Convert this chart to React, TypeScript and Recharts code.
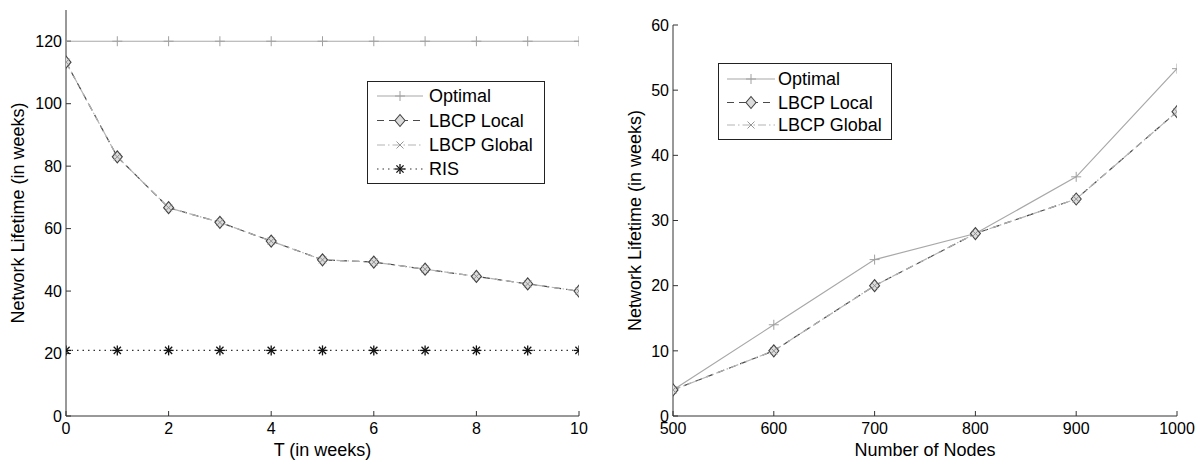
import React from 'react'
import { LineChart, Line, XAxis, YAxis, Legend } from 'recharts'

// left panel: lifetime vs T
const weeks = [0, 1, 2, 3, 4, 5, 6, 7, 8, 9, 10]
const optimalByWeek = [120, 120, 120, 120, 120, 120, 120, 120, 120, 120, 120]
const lbcpLocalByWeek = [113.3, 83, 66.7, 62, 56, 50, 49.3, 47, 44.7, 42.3, 40]
const lbcpGlobalByWeek = [113.3, 83, 66.7, 62, 56, 50, 49.3, 47, 44.7, 42.3, 40]
const risByWeek = [21, 21, 21, 21, 21, 21, 21, 21, 21, 21, 21]
const weekTicks = [0, 2, 4, 6, 8, 10]
const lifetimeTicksLeft = [0, 20, 40, 60, 80, 100, 120]

// right panel: lifetime vs number of nodes
const nodeCounts = [500, 600, 700, 800, 900, 1000]
const optimalByNodes = [4, 14, 24, 28, 36.7, 53.3]
const lbcpLocalByNodes = [4, 10, 20, 28, 33.3, 46.7]
const lbcpGlobalByNodes = [4, 10, 20, 28, 33.3, 46.7]
const nodeTicks = [500, 600, 700, 800, 900, 1000]
const lifetimeTicksRight = [0, 10, 20, 30, 40, 50, 60]

const weekData = weeks.map((t, i) => ({
    t,
    optimal: optimalByWeek[i],
    local: lbcpLocalByWeek[i],
    global: lbcpGlobalByWeek[i],
    ris: risByWeek[i],
}))

const nodeData = nodeCounts.map((n, i) => ({
    n,
    optimal: optimalByNodes[i],
    local: lbcpLocalByNodes[i],
    global: lbcpGlobalByNodes[i],
}))

const FONT = '"Liberation Sans", Arial, Helvetica, sans-serif'

type Kind = 'plus' | 'diamond' | 'cross' | 'star'

const SERIES: Record<string, { name: string; stroke: string; dash?: string; kind: Kind }> = {
    optimal: { name: 'Optimal', stroke: '#a8a8a8', kind: 'plus' },
    local: { name: 'LBCP Local', stroke: '#4a4a4a', dash: '7 5', kind: 'diamond' },
    global: { name: 'LBCP Global', stroke: '#b4b4b4', dash: '8 3 1.5 3', kind: 'cross' },
    ris: { name: 'RIS', stroke: '#333', dash: '1.5 4', kind: 'star' },
}

function Marker({ kind, x, y }: { kind: Kind; x: number; y: number }) {
    if (x == null || y == null) return null
    if (kind === 'plus') {
        return (
            <g stroke="#a0a0a0" strokeWidth={1}>
                <line x1={x - 5} y1={y} x2={x + 5} y2={y} />
                <line x1={x} y1={y - 5} x2={x} y2={y + 5} />
            </g>
        )
    }
    if (kind === 'diamond') {
        return (
            <polygon
                points={`${x},${y - 6} ${x + 5},${y} ${x},${y + 6} ${x - 5},${y}`}
                fill="#dcdcdc"
                stroke="#444"
                strokeWidth={1.1}
            />
        )
    }
    if (kind === 'cross') {
        return (
            <g stroke="#8a8a8a" strokeWidth={0.9}>
                <line x1={x - 3.5} y1={y - 3.5} x2={x + 3.5} y2={y + 3.5} />
                <line x1={x - 3.5} y1={y + 3.5} x2={x + 3.5} y2={y - 3.5} />
            </g>
        )
    }
    return (
        <g stroke="#111" strokeWidth={1.3}>
            <line x1={x - 5} y1={y} x2={x + 5} y2={y} />
            <line x1={x} y1={y - 5} x2={x} y2={y + 5} />
            <line x1={x - 3.6} y1={y - 3.6} x2={x + 3.6} y2={y + 3.6} />
            <line x1={x - 3.6} y1={y + 3.6} x2={x + 3.6} y2={y - 3.6} />
        </g>
    )
}

const dotOf = (kind: Kind) => (p: any) => <Marker key={`${kind}-${p.index}`} kind={kind} x={p.cx} y={p.cy} />

function LegendBox({ keys, width, height, rowY, x0, x1, textX }: {
    keys: string[]; width: number; height: number; rowY: number[]; x0: number; x1: number; textX: number
}) {
    return (
        <svg width={width} height={height} style={{ display: 'block', fontFamily: FONT }}>
            <rect x={0.5} y={0.5} width={width - 1} height={height - 1} fill="#fff" stroke="#222" strokeWidth={1} />
            {keys.map((k, i) => {
                const s = SERIES[k]
                const y = rowY[i]
                return (
                    <g key={k}>
                        <line x1={x0} y1={y} x2={x1} y2={y} stroke={s.stroke} strokeWidth={1.2} strokeDasharray={s.dash} />
                        <Marker kind={s.kind} x={(x0 + x1) / 2} y={y} />
                        <text x={textX} y={y} dy="0.36em" fontSize={18} fill="#000">{s.name}</text>
                    </g>
                )
            })}
        </svg>
    )
}

const tickStyle = { fill: '#000', fontSize: 16 }
const axisStroke = '#333'

export default function App() {
    return (
        <div style={{ position: 'absolute', left: 0, top: 0, width: 1202, height: 461, background: '#fff', fontFamily: FONT }}>
            {/* T sweep */}
            <div style={{ position: 'absolute', left: 0, top: 0 }}>
                <LineChart width={600} height={461} data={weekData} margin={{ top: 10, right: 21, bottom: 0, left: 0 }}>
                    <XAxis dataKey="t" type="number" domain={[0, 10]} ticks={weekTicks} interval={0} height={45}
                        stroke={axisStroke} tick={tickStyle} tickSize={-5} tickMargin={12} allowDataOverflow
                        label={{ value: 'T (in weeks)', position: 'insideBottom', offset: 5, fontSize: 18, fill: '#000' }} />
                    <XAxis xAxisId="top" orientation="top" type="number" domain={[0, 10]} ticks={weekTicks} interval={0}
                        height={0} stroke={axisStroke} tick={false} tickSize={-5} allowDataOverflow />
                    <YAxis type="number" domain={[0, 130]} ticks={lifetimeTicksLeft} interval={0} width={66}
                        stroke={axisStroke} tick={tickStyle} tickSize={-5} tickMargin={9} allowDataOverflow
                        label={{ value: 'Network Lifetime (in weeks)', angle: -90, position: 'insideLeft', offset: 18, fontSize: 18, fill: '#000', style: { textAnchor: 'middle' } }} />
                    <YAxis yAxisId="right" orientation="right" type="number" domain={[0, 130]} ticks={lifetimeTicksLeft}
                        interval={0} width={0} stroke={axisStroke} tick={false} tickSize={-5} allowDataOverflow />
                    <Legend verticalAlign="middle" align="center" layout="horizontal"
                        wrapperStyle={{ left: 367, top: 81, width: 178, height: 103 }}
                        content={() => <LegendBox keys={['optimal', 'local', 'global', 'ris']} width={178} height={103}
                            rowY={[15, 39.5, 64, 88]} x0={10} x1={56} textX={62} />} />
                    <Line dataKey="optimal" name="Optimal" stroke={SERIES.optimal.stroke} strokeWidth={1.2}
                        dot={dotOf('plus')} isAnimationActive={false} />
                    <Line dataKey="local" name="LBCP Local" stroke={SERIES.local.stroke} strokeWidth={1.2}
                        strokeDasharray={SERIES.local.dash} dot={dotOf('diamond')} isAnimationActive={false} />
                    <Line dataKey="global" name="LBCP Global" stroke={SERIES.global.stroke} strokeWidth={1.2}
                        strokeDasharray={SERIES.global.dash} dot={dotOf('cross')} isAnimationActive={false} />
                    <Line dataKey="ris" name="RIS" stroke={SERIES.ris.stroke} strokeWidth={1.2}
                        strokeDasharray={SERIES.ris.dash} dot={dotOf('star')} isAnimationActive={false} />
                </LineChart>
            </div>

            {/* node count sweep */}
            <div style={{ position: 'absolute', left: 600, top: 0 }}>
                <LineChart width={602} height={461} data={nodeData} margin={{ top: 25, right: 25, bottom: 0, left: 0 }}>
                    <XAxis dataKey="n" type="number" domain={[500, 1000]} ticks={nodeTicks} interval={0} height={45}
                        stroke={axisStroke} tick={tickStyle} tickSize={-5} tickMargin={12} allowDataOverflow
                        label={{ value: 'Number of Nodes', position: 'insideBottom', offset: 5, fontSize: 18, fill: '#000' }} />
                    <XAxis xAxisId="top" orientation="top" type="number" domain={[500, 1000]} ticks={nodeTicks} interval={0}
                        height={0} stroke={axisStroke} tick={false} tickSize={-5} allowDataOverflow />
                    <YAxis type="number" domain={[0, 60]} ticks={lifetimeTicksRight} interval={0} width={73}
                        stroke={axisStroke} tick={tickStyle} tickSize={-5} tickMargin={9} allowDataOverflow
                        label={{ value: 'Network Lifetime (in weeks)', angle: -90, position: 'insideLeft', offset: 35, fontSize: 18, fill: '#000', style: { textAnchor: 'middle' } }} />
                    <YAxis yAxisId="right" orientation="right" type="number" domain={[0, 60]} ticks={lifetimeTicksRight}
                        interval={0} width={0} stroke={axisStroke} tick={false} tickSize={-5} allowDataOverflow />
                    <Legend verticalAlign="middle" align="center" layout="horizontal"
                        wrapperStyle={{ left: 118, top: 63, width: 174, height: 77 }}
                        content={() => <LegendBox keys={['optimal', 'local', 'global']} width={174} height={77}
                            rowY={[16, 39.5, 62]} x0={9} x1={57} textX={60} />} />
                    <Line dataKey="optimal" name="Optimal" stroke={SERIES.optimal.stroke} strokeWidth={1.2}
                        dot={dotOf('plus')} isAnimationActive={false} />
                    <Line dataKey="local" name="LBCP Local" stroke={SERIES.local.stroke} strokeWidth={1.2}
                        strokeDasharray={SERIES.local.dash} dot={dotOf('diamond')} isAnimationActive={false} />
                    <Line dataKey="global" name="LBCP Global" stroke={SERIES.global.stroke} strokeWidth={1.2}
                        strokeDasharray={SERIES.global.dash} dot={dotOf('cross')} isAnimationActive={false} />
                </LineChart>
            </div>
        </div>
    )
}
